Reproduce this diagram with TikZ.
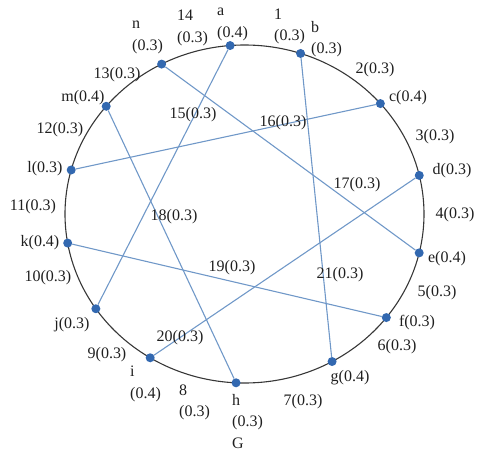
\documentclass[tikz,border=0pt]{standalone}
\usepackage{fontspec}
\setmainfont{Liberation Serif}
\usepackage{tikz}
\usetikzlibrary{calc}
\definecolor{GraphBlue}{RGB}{50,104,176}
\definecolor{EdgeBlue}{RGB}{112,152,200}
\definecolor{RingGray}{RGB}{55,55,55}

\begin{document}
\begin{tikzpicture}[
        x=1pt, y=1pt,
        font=\fontsize{16}{21.5}\selectfont,
        vertex/.style={
            circle,
            fill=GraphBlue,
            inner sep=0pt,
            minimum size=9pt
        },
        ring/.style={
            draw=RingGray,
            line width=1.1pt
        },
        edge/.style={
            draw=EdgeBlue,
            line width=1.1pt
        },
        lbl/.style={
            text=black!88,
            inner sep=0pt,
            align=left
        },
        stacked/.style={
            lbl,
            anchor=west
        }
    ]

    \useasboundingbox (0,0) rectangle (477,451);

    % Ring
    \coordinate (O) at (244.5,237);
    \draw[ring] (O) ellipse [x radius=179.5, y radius=169];

    % Vertices on the ring
    \node[vertex] (a) at ($(O)+(94.6:179.5 and 169)$) {};
    \node[vertex] (b) at ($(O)+(71.8:179.5 and 169)$) {};
    \node[vertex] (c) at ($(O)+(40.8:179.5 and 169)$) {};
    \node[vertex] (d) at ($(O)+(13.2:179.5 and 169)$) {};
    \node[vertex] (e) at ($(O)+(-13.3:179.5 and 169)$) {};
    \node[vertex] (f) at ($(O)+(-37.8:179.5 and 169)$) {};
    \node[vertex] (g) at ($(O)+(-60.8:179.5 and 169)$) {};
    \node[vertex] (h) at ($(O)+(-92.7:179.5 and 169)$) {};
    \node[vertex] (i) at ($(O)+(238.3:179.5 and 169)$) {};
    \node[vertex] (j) at ($(O)+(214.1:179.5 and 169)$) {};
    \node[vertex] (k) at ($(O)+(189.9:179.5 and 169)$) {};
    \node[vertex] (l) at ($(O)+(164.9:179.5 and 169)$) {};
    \node[vertex] (m) at ($(O)+(140.4:179.5 and 169)$) {};
    \node[vertex] (n) at ($(O)+(117.5:179.5 and 169)$) {};

    % Chords
    \draw[edge] (a) -- (j);
    \draw[edge] (c) -- (l);
    \draw[edge] (n) -- (e);
    \draw[edge] (m) -- (h);
    \draw[edge] (k) -- (f);
    \draw[edge] (d) -- (i);
    \draw[edge] (b) -- (g);

    % Vertex labels
    \node[stacked] (la) at (217,426.5) {a\\(0.4)};
    \node[stacked] (lb) at (311,412) {b\\(0.3)};
    \node[lbl] (lc) at (408,353) {c(0.4)};
    \node[lbl] (ld) at (452,280) {d(0.3)};
    \node[lbl] (le) at (447,192) {e(0.4)};
    \node[lbl] (lf) at (417,128) {f(0.3)};
    \node[lbl] (lg) at (350,73) {g(0.4)};
    \node[stacked] (lh) at (232,29.5) {h\\(0.3)\\G};
    \node[stacked] (li) at (130,67) {i\\(0.4)};
    \node[lbl] (lj) at (72,126) {j(0.3)};
    \node[lbl] (lk) at (40,208) {k(0.4)};
    \node[lbl] (ll) at (45,282) {l(0.3)};
    \node[lbl] (lm) at (83,353) {m(0.4)};
    \node[stacked] (ln) at (132,413.5) {n\\(0.3)};

    % Arc labels
    \node[stacked] (t1) at (274,424.5) {1\\(0.3)};
    \node[lbl] (t2) at (375,381) {2(0.3)};
    \node[lbl] (t3) at (435,314) {3(0.3)};
    \node[lbl] (t4) at (455,236) {4(0.3)};
    \node[lbl] (t5) at (437,158) {5(0.3)};
    \node[lbl] (t6) at (397,104) {6(0.3)};
    \node[lbl] (t7) at (303,49) {7(0.3)};
    \node[stacked] (t8) at (179,48.5) {8\\(0.3)};
    \node[lbl] (t9) at (107,96) {9(0.3)};
    \node[lbl] (t10) at (48,173) {10(0.3)};
    \node[lbl] (t11) at (33,244) {11(0.3)};
    \node[lbl] (t12) at (60,321) {12(0.3)};
    \node[lbl] (t13) at (117,376) {13(0.3)};
    \node[stacked] (t14) at (177,423) {14\\(0.3)};

    % Chord labels
    \node[lbl] (c15) at (193,336) {15(0.3)};
    \node[lbl] (c16) at (283,328) {16(0.3)};
    \node[lbl] (c17) at (357,266) {17(0.3)};
    \node[lbl] (c18) at (174,234) {18(0.3)};
    \node[lbl] (c19) at (232,183) {19(0.3)};
    \node[lbl] (c20) at (180,113) {20(0.3)};
    \node[lbl] (c21) at (340,176) {21(0.3)};

\end{tikzpicture}
\end{document}
